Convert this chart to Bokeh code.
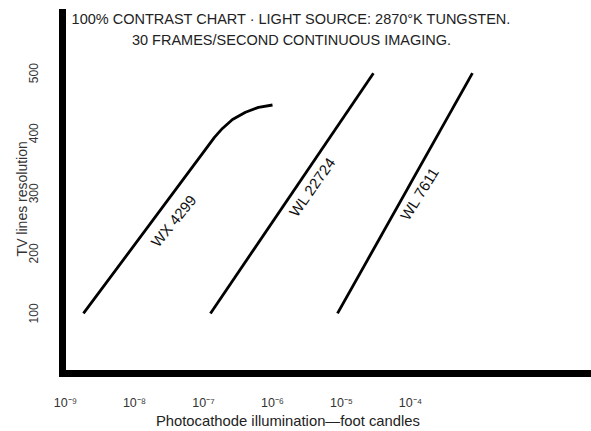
from bokeh.plotting import figure
from bokeh.models import Range1d, FixedTicker, Label
from bokeh.embed import file_html
from bokeh.resources import INLINE

# ---- data ----
title_line1 = "100% CONTRAST CHART · LIGHT SOURCE: 2870°K TUNGSTEN."
title_line2 = "30 FRAMES/SECOND CONTINUOUS IMAGING."
x_title = "Photocathode illumination\u2014foot candles"
y_title = "TV lines resolution"

x_ticks = [1e-9, 1e-8, 1e-7, 1e-6, 1e-5, 1e-4]
x_tick_labels = ["10\u207b\u2079", "10\u207b\u2078", "10\u207b\u2077", "10\u207b\u2076", "10\u207b\u2075", "10\u207b\u2074"]
y_ticks = [100, 200, 300, 400, 500]

series_names = ["WX 4299", "WL 22724", "WL 7611"]
wx4299_fc = [1.82e-9, 1.07e-7, 1.44e-7, 1.88e-7, 2.63e-7, 4.06e-7, 6.27e-7, 1.0e-6]
wx4299_tvl = [100, 373, 393, 408, 423, 435, 443, 447]
wl22724_fc = [1.26e-7, 2.9e-5]
wl22724_tvl = [100, 500]
wl7611_fc = [8.75e-6, 7.9e-4]
wl7611_tvl = [100, 500]

FONT = "Liberation Sans"
NBSP = "\u00a0"

p = figure(width=591, height=431, x_axis_type="log",
           x_range=Range1d(10 ** -9.0435, 10 ** -1.377), y_range=Range1d(0, 601),
           output_backend="svg", toolbar_location=None,
           min_border_left=62, min_border_right=0, min_border_top=12, min_border_bottom=54)
p.outline_line_color = None
p.grid.visible = False
p.background_fill_color = "white"
p.border_fill_color = "white"

for ax in (p.xaxis[0], p.yaxis[0]):
    ax.axis_line_width = 7
    ax.axis_line_color = "black"
    ax.axis_line_cap = "square"
    ax.major_tick_line_color = None
    ax.minor_tick_line_color = None
    ax.major_tick_out = 0
    ax.major_tick_in = 0
    ax.major_label_text_font = FONT
    ax.major_label_text_color = "#333333"
    ax.axis_label_text_font = FONT
    ax.axis_label_text_font_style = "normal"

p.xaxis.ticker = FixedTicker(ticks=x_ticks)
p.xaxis.major_label_overrides = {t: l for t, l in zip(x_ticks, x_tick_labels)}
p.xaxis.major_label_text_font_size = "12.5px"
p.xaxis.major_label_standoff = 22
# trailing no-break spaces shift the centred title left, as in the original
p.xaxis.axis_label = x_title + NBSP * 19
p.xaxis.axis_label_text_font_size = "14.8px"
p.xaxis.axis_label_text_color = "#222222"
p.xaxis.axis_label_standoff = 0

p.yaxis.ticker = FixedTicker(ticks=y_ticks)
p.yaxis.major_label_orientation = "vertical"
p.yaxis.major_label_text_font_size = "12px"
p.yaxis.major_label_standoff = 24
p.yaxis.axis_label = y_title + NBSP * 3
p.yaxis.axis_label_text_font_size = "14px"
p.yaxis.axis_label_text_color = "#333333"
p.yaxis.axis_label_standoff = -3

# curves
p.line(wx4299_fc, wx4299_tvl, line_width=2.8, line_color="black", line_join="round")
p.line(wl22724_fc, wl22724_tvl, line_width=2.8, line_color="black")
p.line(wl7611_fc, wl7611_tvl, line_width=2.8, line_color="black")

# curve names
for name, lx, ly, ang in [(series_names[0], 10 ** -7.435, 254, 51),
                          (series_names[1], 10 ** -5.425, 310.6, 55),
                          (series_names[2], 10 ** -3.870, 299.6, 58)]:
    p.add_layout(Label(x=lx, y=ly, text=name, angle=ang, angle_units="deg",
                       text_align="center", text_baseline="middle",
                       text_font=FONT, text_font_size="15px", text_color="#111111"))

# chart title inside plot
p.add_layout(Label(x=10 ** -5.725, y=590, text=title_line1, text_align="center",
                   text_baseline="middle", text_font=FONT,
                   text_font_size="14.5px", text_color="#222222"))
p.add_layout(Label(x=10 ** -5.725, y=554.7, text=title_line2, text_align="center",
                   text_baseline="middle", text_font=FONT,
                   text_font_size="14.5px", text_color="#222222"))

open("out.html", "w").write(file_html(p, INLINE))
